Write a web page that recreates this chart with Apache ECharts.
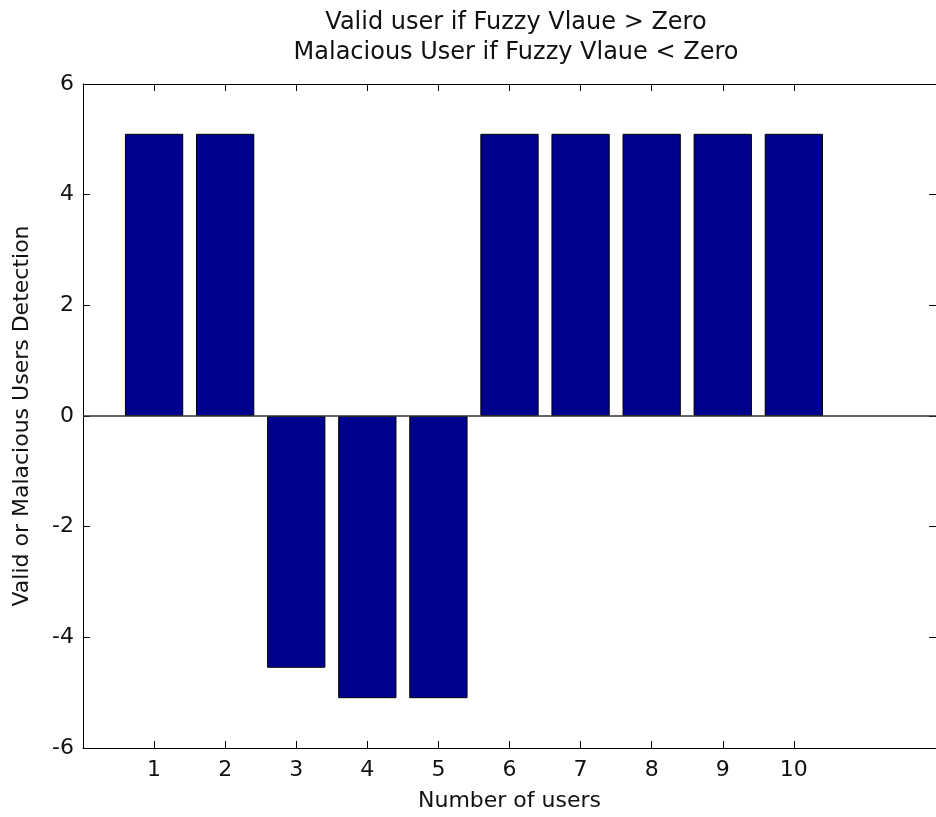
<!DOCTYPE html>
<html>
<head>
<meta charset="utf-8">
<script src="https://cdn.jsdelivr.net/npm/echarts@6/dist/echarts.min.js"></script>
<style>
  html, body { margin: 0; padding: 0; background: #fff; }
  #chart { width: 936px; height: 817px; }
</style>
</head>
<body>
<div id="chart"></div>
<script>
// User index on the x axis and the fuzzy detection value for each user
const users = [1, 2, 3, 4, 5, 6, 7, 8, 9, 10];
const fuzzyValues = [5.1, 5.1, -4.55, -5.1, -5.1, 5.1, 5.1, 5.1, 5.1, 5.1];
const yTicks = [-6, -4, -2, 0, 2, 4, 6];

const titleLines = ['Valid user if Fuzzy Vlaue > Zero', 'Malacious User if Fuzzy Vlaue < Zero'];
const xTitle = 'Number of users';
const yTitle = 'Valid or Malacious Users Detection';

const FONT = 'DejaVu Sans';
const chart = echarts.init(document.getElementById('chart'), null, { renderer: 'canvas' });

const lineStyle = { color: '#000', width: 1 };

chart.setOption({
  backgroundColor: '#fff',
  animation: false,
  title: {
    text: titleLines.join('\n'),
    left: 511,
    top: 3,
    textAlign: 'center',
    textStyle: { fontFamily: FONT, fontSize: 24, fontWeight: 'normal', color: '#111', lineHeight: 30 }
  },
  grid: { left: 83, right: -4, top: 84, bottom: 69, containLabel: false },
  xAxis: [
    {
      type: 'value', min: 0, max: 12, position: 'bottom',
      name: xTitle, nameLocation: 'middle', nameGap: 42,
      nameTextStyle: { fontFamily: FONT, fontSize: 22, color: '#111' },
      axisLine: { show: true, onZero: false, lineStyle },
      axisTick: { show: true, inside: true, length: 7, customValues: users, lineStyle },
      axisLabel: { customValues: users, margin: 11, fontFamily: FONT, fontSize: 22, color: '#111' },
      splitLine: { show: false }
    },
    {
      type: 'value', min: 0, max: 12, position: 'top',
      axisLine: { show: true, onZero: false, lineStyle },
      axisTick: { show: true, inside: true, length: 7, customValues: users, lineStyle },
      axisLabel: { show: false },
      splitLine: { show: false }
    }
  ],
  yAxis: [
    {
      type: 'value', min: -6, max: 6, interval: 2, position: 'left',
      name: yTitle, nameLocation: 'middle', nameGap: 50,
      nameTextStyle: { fontFamily: FONT, fontSize: 22, color: '#111' },
      axisLine: { show: true, onZero: false, lineStyle },
      axisTick: { show: true, inside: true, length: 7, customValues: yTicks, lineStyle },
      axisLabel: { customValues: yTicks, margin: 9, fontFamily: FONT, fontSize: 22, color: '#111' },
      splitLine: { show: false }
    },
    {
      type: 'value', min: -6, max: 6, interval: 2, position: 'right',
      axisLine: { show: true, onZero: false, lineStyle },
      axisTick: { show: true, inside: true, length: 7, customValues: yTicks, lineStyle },
      axisLabel: { show: false },
      splitLine: { show: false }
    }
  ],
  series: [
    {
      type: 'bar',
      xAxisIndex: 0,
      yAxisIndex: 0,
      barWidth: '82%',
      data: users.map((u, i) => [u, fuzzyValues[i]]),
      itemStyle: { color: '#00008f', borderColor: '#000', borderWidth: 1 },
      markLine: {
        silent: true,
        symbol: 'none',
        label: { show: false },
        lineStyle: { color: '#333', width: 1.5, type: 'solid' },
        data: [{ yAxis: 0 }]
      }
    }
  ]
});
</script>
</body>
</html>
